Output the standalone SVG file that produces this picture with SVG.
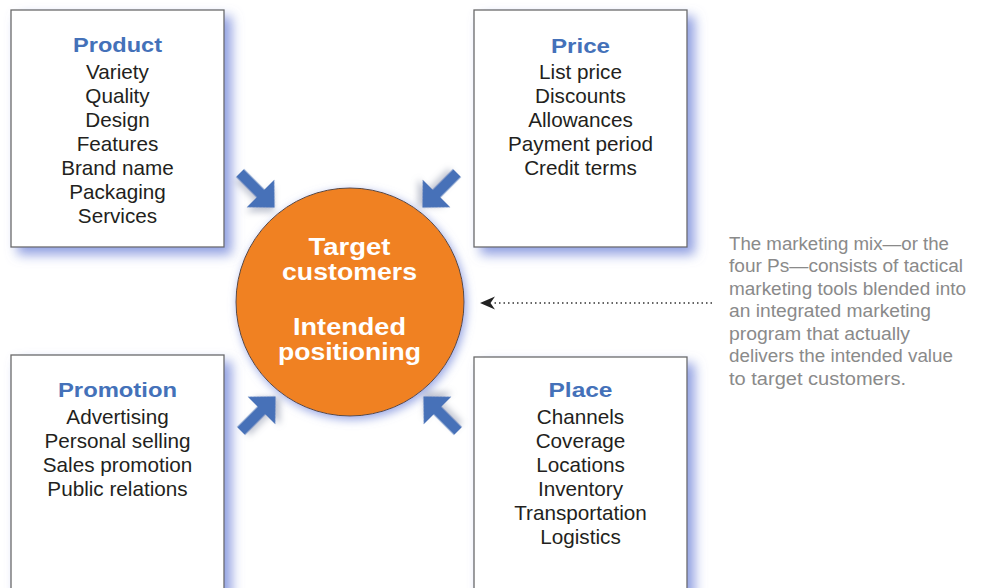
<svg xmlns="http://www.w3.org/2000/svg" width="986" height="588" viewBox="0 0 986 588">
<defs>
<filter id="boxShadow" x="-20%" y="-20%" width="150%" height="150%">
<feGaussianBlur in="SourceAlpha" stdDeviation="6"/>
<feOffset dx="7" dy="7" result="b"/>
<feFlood flood-color="#7d8fdc" flood-opacity="0.85"/>
<feComposite in2="b" operator="in"/>
<feMerge><feMergeNode/><feMergeNode in="SourceGraphic"/></feMerge>
</filter>
<filter id="circShadow" x="-20%" y="-20%" width="140%" height="140%">
<feGaussianBlur in="SourceAlpha" stdDeviation="5"/>
<feOffset dx="2" dy="3" result="b"/>
<feFlood flood-color="#7d8fdc" flood-opacity="0.8"/>
<feComposite in2="b" operator="in"/>
<feMerge><feMergeNode/><feMergeNode in="SourceGraphic"/></feMerge>
</filter>
<filter id="arrShadow" x="-40%" y="-40%" width="180%" height="180%">
<feGaussianBlur in="SourceAlpha" stdDeviation="3"/>
<feOffset dx="3" dy="4" result="b"/>
<feFlood flood-color="#8890a8" flood-opacity="0.5"/>
<feComposite in2="b" operator="in"/>
<feMerge><feMergeNode/><feMergeNode in="SourceGraphic"/></feMerge>
</filter>
<path id="bigArrow" d="M0,-5.5 L29,-5.5 L29,-19.5 L49,0 L29,19.5 L29,5.5 L0,5.5 Z"/>
</defs>
<style>
.box{fill:#ffffff;stroke:#6a6a6a;stroke-width:1.3}
.title{font-family:"Liberation Sans",Arial,sans-serif;font-weight:bold;font-size:21px;fill:#4471b9;text-anchor:middle}
.item{font-family:"Liberation Sans",Arial,sans-serif;font-size:20.7px;fill:#231f20;text-anchor:middle}
.ctext{font-family:"Liberation Sans",Arial,sans-serif;font-weight:bold;font-size:23px;fill:#ffffff;text-anchor:middle}
.note{font-family:"Liberation Sans",Arial,sans-serif;font-size:17.5px;fill:#8a8a8a}
.arrow{fill:#4671b8}
</style>
<rect width="986" height="588" fill="#ffffff"/>

<g id="product">
<rect class="box" x="11" y="10" width="213" height="237" filter="url(#boxShadow)"/>
<text class="title" x="117.5" y="52" textLength="89" lengthAdjust="spacingAndGlyphs">Product</text>
<text class="item" x="117.5" y="79">Variety</text>
<text class="item" x="117.5" y="103">Quality</text>
<text class="item" x="117.5" y="127">Design</text>
<text class="item" x="117.5" y="151">Features</text>
<text class="item" x="117.5" y="175">Brand name</text>
<text class="item" x="117.5" y="199">Packaging</text>
<text class="item" x="117.5" y="223">Services</text>
</g>

<g id="price">
<rect class="box" x="474" y="10" width="213" height="237" filter="url(#boxShadow)"/>
<text class="title" x="580.5" y="53" textLength="59" lengthAdjust="spacingAndGlyphs">Price</text>
<text class="item" x="580.5" y="79">List price</text>
<text class="item" x="580.5" y="103">Discounts</text>
<text class="item" x="580.5" y="127">Allowances</text>
<text class="item" x="580.5" y="151">Payment period</text>
<text class="item" x="580.5" y="175">Credit terms</text>
</g>

<g id="promotion">
<rect class="box" x="11" y="355" width="213" height="250" filter="url(#boxShadow)"/>
<text class="title" x="117.5" y="397" textLength="119" lengthAdjust="spacingAndGlyphs">Promotion</text>
<text class="item" x="117.5" y="424">Advertising</text>
<text class="item" x="117.5" y="448">Personal selling</text>
<text class="item" x="117.5" y="472">Sales promotion</text>
<text class="item" x="117.5" y="496">Public relations</text>
</g>

<g id="place">
<rect class="box" x="474" y="357" width="213" height="250" filter="url(#boxShadow)"/>
<text class="title" x="580.5" y="397" textLength="64" lengthAdjust="spacingAndGlyphs">Place</text>
<text class="item" x="580.5" y="424">Channels</text>
<text class="item" x="580.5" y="448">Coverage</text>
<text class="item" x="580.5" y="472">Locations</text>
<text class="item" x="580.5" y="496">Inventory</text>
<text class="item" x="580.5" y="520">Transportation</text>
<text class="item" x="580.5" y="544">Logistics</text>
</g>

<g id="target">
<circle cx="350" cy="302" r="114" fill="#f08121" stroke="#5a4a40" stroke-width="1" filter="url(#circShadow)"/>
<text class="ctext" x="349.5" y="255" textLength="82" lengthAdjust="spacingAndGlyphs">Target</text>
<text class="ctext" x="349.5" y="280" textLength="135" lengthAdjust="spacingAndGlyphs">customers</text>
<text class="ctext" x="349.5" y="335" textLength="113" lengthAdjust="spacingAndGlyphs">Intended</text>
<text class="ctext" x="349.5" y="360" textLength="143" lengthAdjust="spacingAndGlyphs">positioning</text>
</g>

<g id="note">
<text class="note" x="729" y="250" textLength="220" lengthAdjust="spacingAndGlyphs">The marketing mix—or the</text>
<text class="note" x="729" y="272" textLength="234" lengthAdjust="spacingAndGlyphs">four Ps—consists of tactical</text>
<text class="note" x="729" y="295" textLength="237" lengthAdjust="spacingAndGlyphs">marketing tools blended into</text>
<text class="note" x="729" y="317" textLength="202" lengthAdjust="spacingAndGlyphs">an integrated marketing</text>
<text class="note" x="729" y="340" textLength="181" lengthAdjust="spacingAndGlyphs">program that actually</text>
<text class="note" x="729" y="362" textLength="224" lengthAdjust="spacingAndGlyphs">delivers the intended value</text>
<text class="note" x="729" y="385" textLength="177" lengthAdjust="spacingAndGlyphs">to target customers.</text>
</g>

<g id="connectors">
<use href="#bigArrow" class="arrow" filter="url(#arrShadow)" transform="translate(240,173) rotate(45)"/>
<use href="#bigArrow" class="arrow" filter="url(#arrShadow)" transform="translate(457,173) rotate(135)"/>
<use href="#bigArrow" class="arrow" filter="url(#arrShadow)" transform="translate(241,431) rotate(-45)"/>
<use href="#bigArrow" class="arrow" filter="url(#arrShadow)" transform="translate(458,431) rotate(-135)"/>
<line x1="712" y1="303" x2="492" y2="303" stroke="#333" stroke-width="1.3" stroke-dasharray="1.5,3"/>
<path d="M480,303 L495,296.5 L490.5,303 L495,309.5 Z" fill="#222"/>
</g>
</svg>
